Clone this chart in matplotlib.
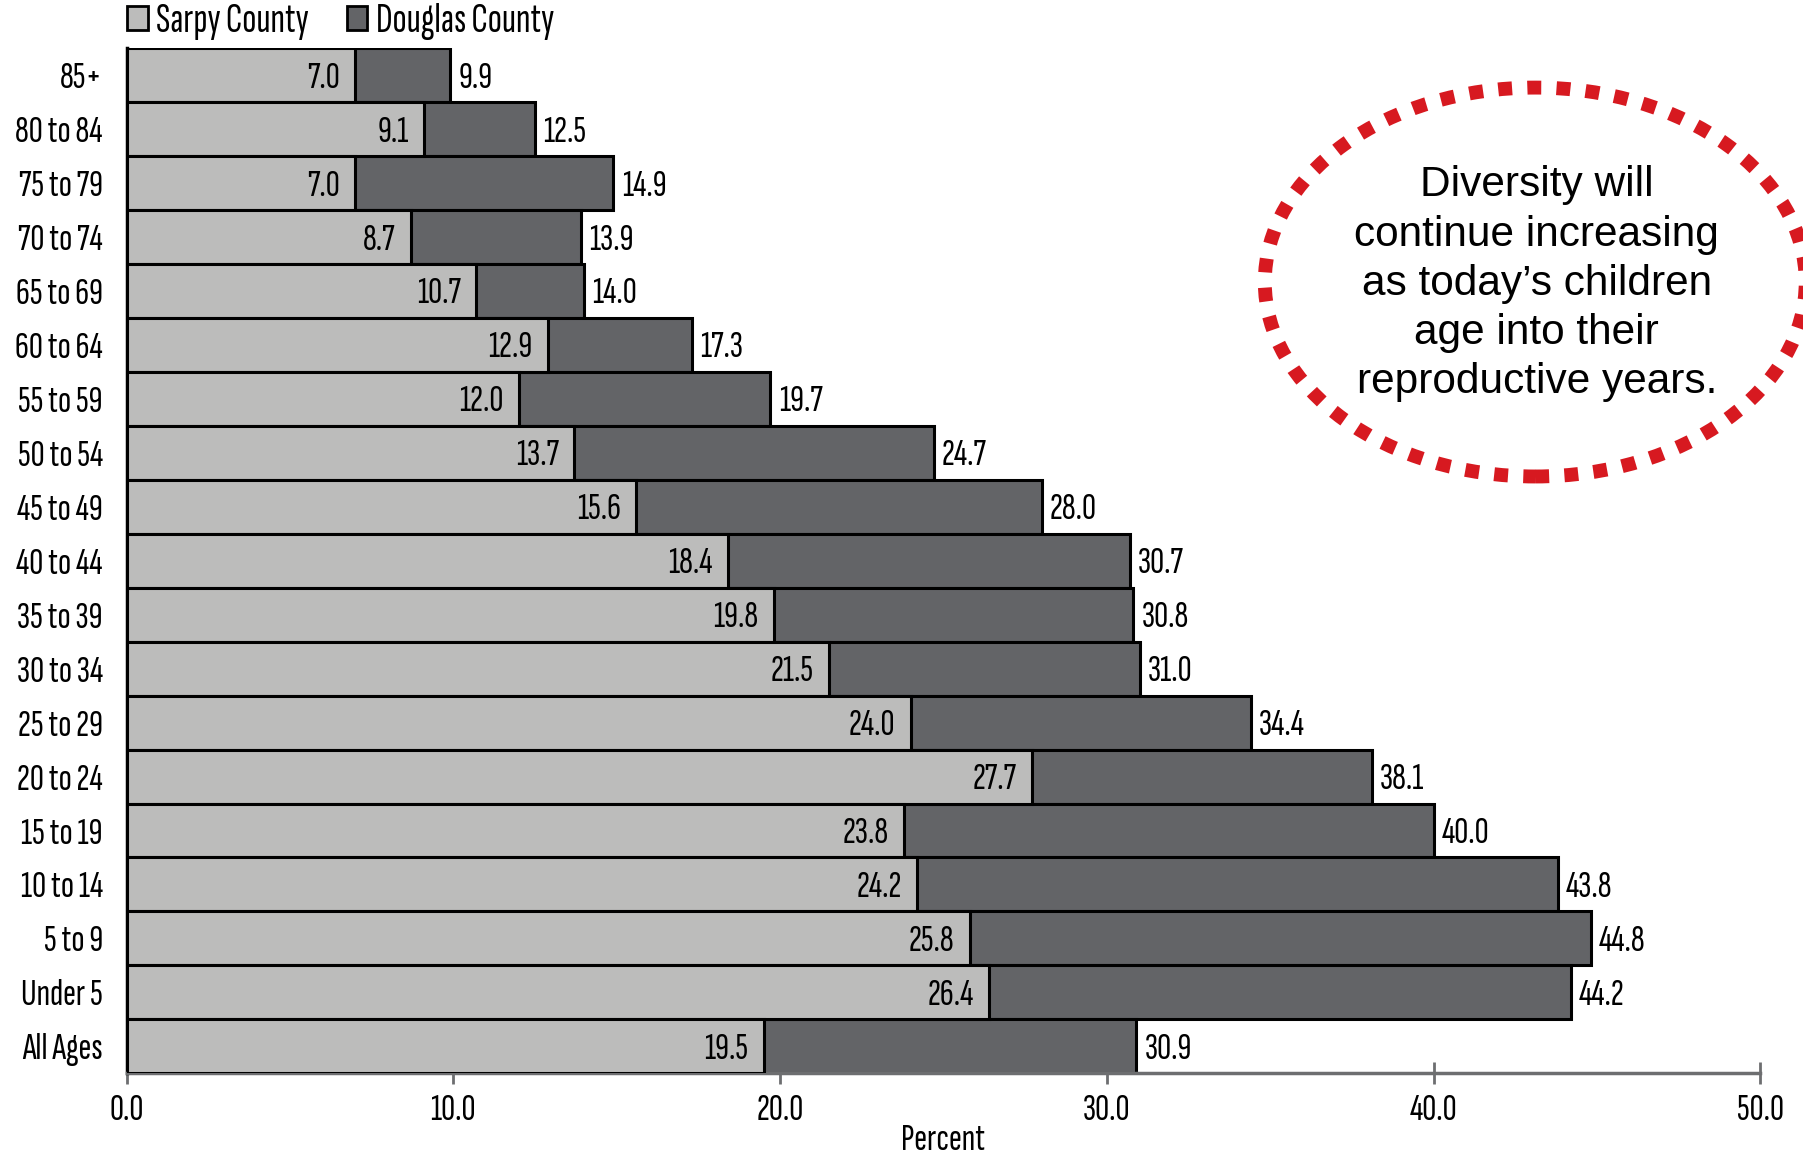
import matplotlib.pyplot as plt
from matplotlib.patches import Ellipse, Patch

plt.rcParams['font.family'] = ['Sofia Sans Extra Condensed', 'Roboto Condensed', 'DejaVu Sans']

ages = ['85+', '80 to 84', '75 to 79', '70 to 74', '65 to 69', '60 to 64',
        '55 to 59', '50 to 54', '45 to 49', '40 to 44', '35 to 39', '30 to 34',
        '25 to 29', '20 to 24', '15 to 19', '10 to 14', '5 to 9', 'Under 5',
        'All Ages']
sarpy = [7.0, 9.1, 7.0, 8.7, 10.7, 12.9, 12.0, 13.7, 15.6, 18.4, 19.8, 21.5,
         24.0, 27.7, 23.8, 24.2, 25.8, 26.4, 19.5]
douglas = [9.9, 12.5, 14.9, 13.9, 14.0, 17.3, 19.7, 24.7, 28.0, 30.7, 30.8,
           31.0, 34.4, 38.1, 40.0, 43.8, 44.8, 44.2, 30.9]

light = '#bcbcbb'
dark = '#636467'
red = '#d71920'
fs = 28

fig = plt.figure(figsize=(18.03, 11.54), dpi=100)
ax = fig.add_axes([0.0702, 0.070, 0.9062, 0.888])

ypos = list(range(len(ages)))[::-1]
ax.barh(ypos, douglas, height=1.0, color=dark, edgecolor='black', linewidth=2.2, zorder=2)
ax.barh(ypos, sarpy, height=1.0, color=light, edgecolor='black', linewidth=2.2, zorder=3)

for y, s, d in zip(ypos, sarpy, douglas):
    ax.annotate(f'{s:.1f}', (s, y), xytext=(-11, -2), textcoords='offset points',
                ha='right', va='center', fontsize=fs, zorder=4)
    ax.annotate(f'{d:.1f}', (d, y), xytext=(6, -2), textcoords='offset points',
                ha='left', va='center', fontsize=fs, zorder=4)

ax.set_xlim(0, 50)
ax.set_ylim(-0.5, len(ages) - 0.5)
ax.set_yticks(ypos)
ax.set_yticklabels(ages, fontsize=fs)
ax.set_xticks([0, 10, 20, 30, 40, 50])
ax.set_xticklabels([f'{v:.1f}' for v in [0, 10, 20, 30, 40, 50]], fontsize=fs)
ax.tick_params(axis='y', length=0, pad=17)
ax.tick_params(axis='x', direction='inout', length=16, width=2, color='#6d6e70', pad=7)
for side in ['top', 'right']:
    ax.spines[side].set_visible(False)
ax.spines['left'].set_linewidth(2.5)
ax.spines['bottom'].set_color('#6d6e70')
ax.spines['bottom'].set_linewidth(2.5)
ax.set_xlabel('Percent', fontsize=fs, labelpad=-2)

handles = [Patch(facecolor=light, edgecolor='black', linewidth=2, label='Sarpy County'),
           Patch(facecolor=dark, edgecolor='black', linewidth=2, label='Douglas County')]
fig.legend(handles=handles, loc='center left', bbox_to_anchor=(0.0705, 0.981), ncol=2,
           frameon=False, fontsize=30, handlelength=0.5, handleheight=0.5,
           handletextpad=0.2, columnspacing=0.9, borderpad=0, borderaxespad=0)

# callout bubble
oval = Ellipse((0.8515, 0.7556), 0.300, 0.337, transform=fig.transFigure,
               fill=False, edgecolor=red, linewidth=10, linestyle=(0, (1, 1.1)))
fig.patches.append(oval)
fig.text(0.8523, 0.754, "Diversity will\ncontinue increasing\nas today\u2019s children\nage into their\nreproductive years.",
         ha='center', va='center', fontsize=30.5, linespacing=1.3,
         family=['Liberation Sans', 'DejaVu Sans'])

fig.savefig('out.png', dpi=100)
